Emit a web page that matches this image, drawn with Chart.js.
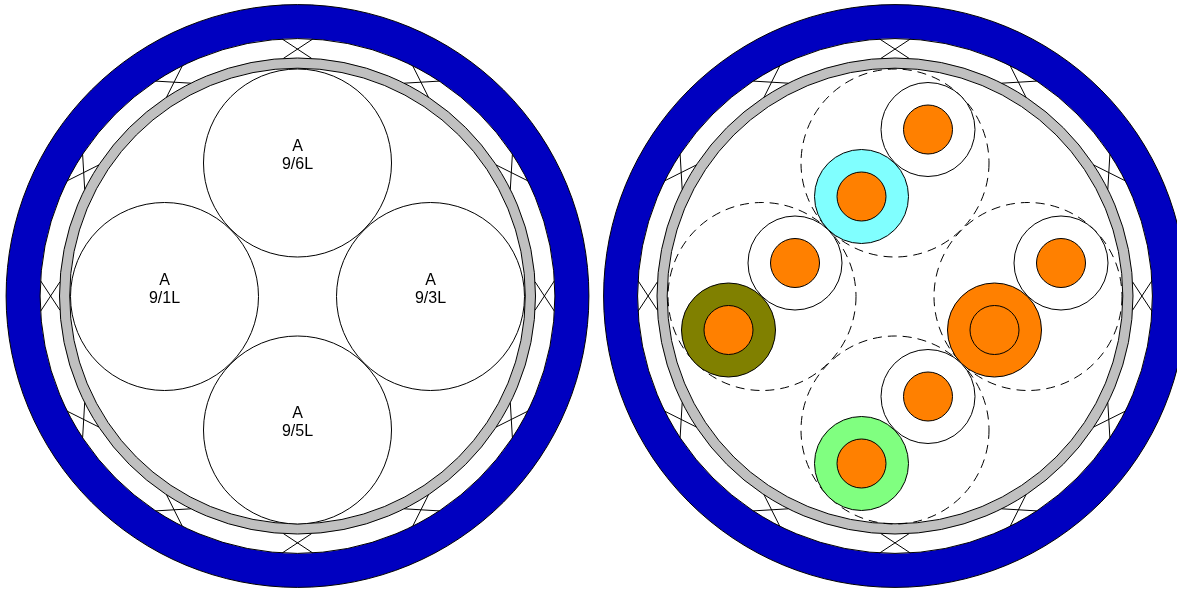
<!DOCTYPE html>
<html>
<head>
<meta charset="utf-8">
<style>
  html, body { margin: 0; padding: 0; background: #fff; overflow: hidden; }
  canvas { display: block; }
</style>
<script src="https://cdn.jsdelivr.net/npm/chart.js@4"></script>
</head>
<body>
<canvas id="cable" width="1177" height="590"></canvas>
<script>
// centres of the two cross sections
const sectionX = [297.5, 895];
const sectionY = 296;

// sheath rings, outside to inside (radius, fill)
const ringRadii = [291.4, 257.4, 238, 227.8];
const ringColors = ['#0000c0', '#ffffff', '#c0c0c0', '#ffffff'];

// crossed filler wires between sheath and screen
const crossAngles = [0, 30, 60, 90, 120, 150, 180, 210, 240, 270, 300, 330];
const crossSpread = 3.4;
const crossOuter = 257.4;
const crossInner = 238;

// the four bundles, offset from the section centre
const bundleDx = [0, -133, 133, 0];
const bundleDy = [-133, 0.5, 0.5, 134];
const bundleRadius = 94;

// left section labels
const bundleTop = ['A', 'A', 'A', 'A'];
const bundleBottom = ['9/6L', '9/1L', '9/3L', '9/5L'];

// right section: each bundle holds two conductors
const coreDx = [33, -33.5];
const coreDy = [-33.5, 33.5];
const coreRadius = 47;
const conductorRadius = 24.5;
const insulationColors = [
  ['#ffffff', '#80ffff'],
  ['#ffffff', '#808000'],
  ['#ffffff', '#ff8000'],
  ['#ffffff', '#80ff80']
];
const conductorColors = [
  ['#ff8000', '#ff8000'],
  ['#ff8000', '#ff8000'],
  ['#ff8000', '#ff8000'],
  ['#ff8000', '#ff8000']
];

document.addEventListener('DOMContentLoaded', () => {
  // radius is given in axis units, converted with the x scale
  const radiusOf = (ctx) => {
    const xScale = ctx.chart.scales.x;
    return xScale.getPixelForValue(ctx.raw.r) - xScale.getPixelForValue(0);
  };

  const layer = (points, colors, extra) => Object.assign({
    data: points,
    showLine: false,
    pointStyle: 'circle',
    pointRadius: radiusOf,
    pointBackgroundColor: (ctx) => colors[ctx.dataIndex % colors.length],
    pointBorderColor: '#000000',
    pointBorderWidth: 1
  }, extra);

  const layers = [];

  // sheath rings of both sections
  ringRadii.forEach((r, i) => {
    layers.push(layer(sectionX.map(x => ({ x: x, y: sectionY, r: r })), [ringColors[i]]));
  });

  // filler wires
  const wires = [];
  sectionX.forEach(cx => {
    crossAngles.forEach(a => {
      [-1, 1].forEach(side => {
        const from = (a + side * crossSpread) * Math.PI / 180;
        const to = (a - side * crossSpread) * Math.PI / 180;
        wires.push({ x: cx + crossOuter * Math.cos(from), y: sectionY + crossOuter * Math.sin(from) });
        wires.push({ x: cx + crossInner * Math.cos(to), y: sectionY + crossInner * Math.sin(to) });
        wires.push({ x: NaN, y: NaN });
      });
    });
  });
  layers.push({
    data: wires,
    showLine: true,
    spanGaps: false,
    pointRadius: 0,
    borderColor: '#000000',
    borderWidth: 1
  });

  // solid bundles on the left
  layers.push(layer(bundleDx.map((dx, i) => ({
    x: sectionX[0] + dx, y: sectionY + bundleDy[i], r: bundleRadius
  })), ['#ffffff']));

  // dashed bundles on the right
  layers.push(layer(bundleDx.map((dx, i) => ({
    x: sectionX[1] + dx, y: sectionY + bundleDy[i], r: bundleRadius
  })), ['rgba(0,0,0,0)'], { dash: [9, 6] }));

  // insulation and conductors on the right
  const corePoints = (r) => {
    const pts = [];
    bundleDx.forEach((dx, i) => {
      coreDx.forEach((cdx, j) => {
        pts.push({ x: sectionX[1] + dx + cdx, y: sectionY + bundleDy[i] + coreDy[j], r: r });
      });
    });
    return pts;
  };
  layers.push(layer(corePoints(coreRadius), insulationColors.flat()));
  layers.push(layer(corePoints(conductorRadius), conductorColors.flat()));

  // first layer has to be painted first
  layers.forEach((d, i) => { d.order = layers.length - i; });

  // PointElement has no dash option, set it on the context per dataset
  const dashPlugin = {
    id: 'dash',
    beforeDatasetDraw(chart, args) {
      const dash = chart.data.datasets[args.index].dash;
      if (dash) chart.ctx.setLineDash(dash);
    },
    afterDatasetDraw(chart) {
      chart.ctx.setLineDash([]);
    }
  };

  const labelPlugin = {
    id: 'labels',
    afterDatasetsDraw(chart) {
      const { ctx, scales } = chart;
      ctx.save();
      ctx.fillStyle = '#000000';
      ctx.font = '16px "Liberation Sans", Arial, sans-serif';
      ctx.textAlign = 'center';
      ctx.textBaseline = 'alphabetic';
      bundleDx.forEach((dx, i) => {
        const x = scales.x.getPixelForValue(sectionX[0] + dx);
        const y = scales.y.getPixelForValue(sectionY + bundleDy[i]);
        ctx.fillText(bundleTop[i], x, y - 12);
        ctx.fillText(bundleBottom[i], x, y + 6);
      });
      ctx.restore();
    }
  };

  new Chart(document.getElementById('cable'), {
    type: 'scatter',
    data: { datasets: layers },
    options: {
      responsive: false,
      animation: false,
      events: [],
      layout: { padding: 0 },
      plugins: { legend: { display: false }, tooltip: { enabled: false } },
      scales: {
        x: { type: 'linear', min: 0, max: 1177, display: false },
        y: { type: 'linear', min: 0, max: 590, reverse: true, display: false }
      }
    },
    plugins: [dashPlugin, labelPlugin]
  });
});
</script>
</body>
</html>
